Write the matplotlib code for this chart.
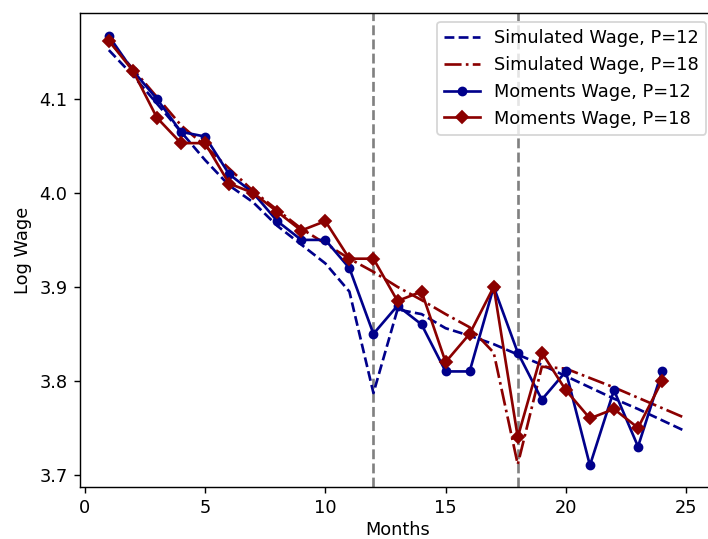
#!/usr/bin/env python3
"""log wage by month: simulated vs moments, P=12 and P=18"""

import matplotlib

matplotlib.use("Agg")
import matplotlib.pyplot as plt
import numpy as np

DPI = 128

sim_months = list(range(1, 26))
sim_p12 = [4.152, 4.125, 4.095, 4.065, 4.035, 4.008, 3.99, 3.965, 3.945, 3.925,
           3.895, 3.787, 3.876, 3.871, 3.856, 3.848, 3.839, 3.828, 3.817, 3.805,
           3.793, 3.781, 3.770, 3.758, 3.746]
sim_p18 = [4.162, 4.132, 4.102, 4.072, 4.050, 4.026, 4.002, 3.982, 3.962, 3.946,
           3.930, 3.916, 3.900, 3.886, 3.871, 3.857, 3.830, 3.711, 3.815, 3.813,
           3.803, 3.793, 3.782, 3.771, 3.760]

mom_months = list(range(1, 25))
mom_p12 = [4.167, 4.13, 4.10, 4.065, 4.06, 4.02, 4.00, 3.97, 3.95, 3.95,
           3.92, 3.85, 3.88, 3.86, 3.81, 3.81, 3.90, 3.83, 3.78, 3.81,
           3.71, 3.79, 3.73, 3.81]
mom_p18 = [4.162, 4.13, 4.08, 4.053, 4.053, 4.01, 4.00, 3.98, 3.96, 3.97,
           3.93, 3.93, 3.885, 3.895, 3.82, 3.85, 3.90, 3.74, 3.83, 3.79,
           3.76, 3.77, 3.75, 3.80]

periods = [12, 18]


def main():
    """main: draw and save"""
    fig = plt.figure(figsize=(708 / DPI, 539 / DPI), dpi=DPI)
    # axes runs a little past the right edge, as in the reference
    ax = fig.add_axes([80 / 708, 52 / 539, 635 / 708, 474 / 539])
    for p in periods:
        ax.axvline(p, color="gray", linestyle="--", linewidth=1.5)
    ax.plot(sim_months, sim_p12, "--", color="darkblue", label="Simulated Wage, P=12")
    ax.plot(sim_months, sim_p18, "-.", color="darkred", label="Simulated Wage, P=18")
    ax.plot(mom_months, mom_p12, "-o", color="darkblue", markersize=4.5,
            label="Moments Wage, P=12")
    ax.plot(mom_months, mom_p18, "-D", color="darkred", markersize=4.5,
            label="Moments Wage, P=18")
    ax.set_xlim(-0.2, 26.2)
    ax.set_ylim(3.687, 4.1915)
    ax.set_yticks(np.arange(3.7, 4.15, 0.1))
    ax.set_xlabel("Months", labelpad=2)
    ax.set_ylabel("Log Wage")
    ax.legend(loc="upper right")
    fig.savefig("out.png", dpi=DPI)


if __name__ == "__main__":
    main()
